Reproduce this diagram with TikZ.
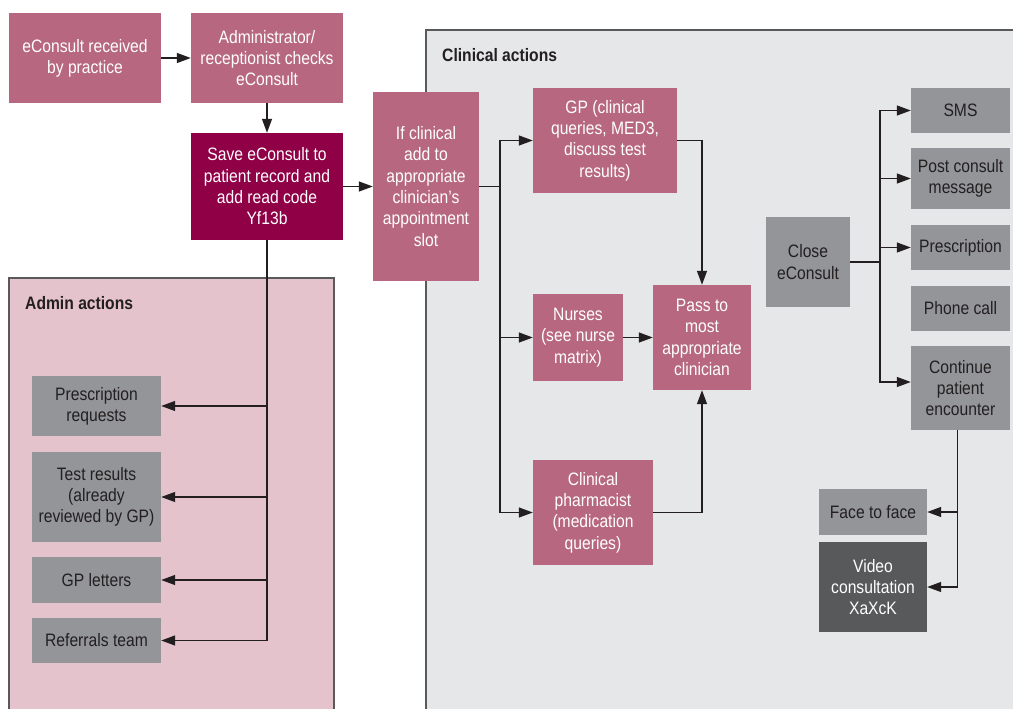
\documentclass[tikz,border=0pt]{standalone}
\usepackage{fontspec}
\setmainfont{Liberation Sans}[FakeStretch=0.87]
\usetikzlibrary{arrows.meta,calc}
\definecolor{ec_mauve}{RGB}{183,104,128}
\definecolor{ec_plum}{RGB}{143,0,70}
\definecolor{ec_grey}{RGB}{147,149,152}
\definecolor{ec_dark}{RGB}{88,89,91}
\definecolor{ec_pink}{RGB}{229,195,204}
\definecolor{ec_panel}{RGB}{230,231,232}
\definecolor{ec_ink}{RGB}{35,31,32}
\tikzstyle{box}=[rectangle,inner sep=0pt,align=center,
  font=\fontsize{18}{21.3}\selectfont]
\tikzstyle{mn}=[box,fill=ec_mauve,text=white]
\tikzstyle{pn}=[box,fill=ec_plum,text=white]
\tikzstyle{gn}=[box,fill=ec_grey,text=ec_ink]
\tikzstyle{kn}=[box,fill=ec_dark,text=white]
\tikzstyle{ttl}=[anchor=west,inner sep=0pt,text=ec_ink,
  font=\fontsize{18}{21.3}\selectfont\bfseries]
\tikzstyle{ln}=[draw=ec_ink,line width=1.3pt]
\tikzstyle{arr}=[ln,-{Triangle[length=14pt,width=10pt]}]

\begin{document}
\begin{tikzpicture}[x=1pt,y=-1pt]
    \useasboundingbox (0,0) rectangle (1013,709);
    % panels
    \begin{scope}
        \clip (0,0) rectangle (1013,709);
        \draw [fill=ec_pink,draw=ec_dark,line width=1.5pt] (9,278) rectangle (334,740);
        \draw [fill=ec_panel,draw=ec_dark,line width=1.5pt] (426,30) rectangle (1040,740);
    \end{scope}
    \node [style=ttl] (ct) at (442,55) {Clinical actions};
    \node [style=ttl] (at) at (25,303) {Admin actions};
    % top row
    \node [style=mn,minimum width=152,minimum height=90] (recv) at (85,58) {eConsult received\\by practice};
    \node [style=mn,minimum width=152,minimum height=90] (chk) at (267,58) {Administrator/\\receptionist checks\\eConsult};
    \node [style=pn,minimum width=152,minimum height=107] (save) at (267,186.5) {Save eConsult to\\patient record and\\add read code\\Yf13b};
    \node [style=mn,minimum width=106,minimum height=189] (ifc) at (426,186.5) {If clinical\\add to\\appropriate\\clinician’s\\appointment\\slot};
    % admin actions
    \node [style=gn,minimum width=129,minimum height=60] (prq) at (96.5,406) {Prescription\\requests};
    \node [style=gn,minimum width=129,minimum height=90] (tst) at (96.5,497) {Test results\\(already\\reviewed by GP)};
    \node [style=gn,minimum width=129,minimum height=46] (let) at (96.5,580) {GP letters};
    \node [style=gn,minimum width=129,minimum height=45] (ref) at (96.5,640.5) {Referrals team};
    % clinical actions
    \node [style=mn,minimum width=144,minimum height=105] (gp) at (605,140.5) {GP (clinical\\queries, MED3,\\discuss test\\results)};
    \node [style=mn,minimum width=90,minimum height=87] (nrs) at (578,337.5) {Nurses\\(see nurse\\matrix)};
    \node [style=mn,minimum width=98,minimum height=105] (pass) at (702,337.5) {Pass to\\most\\appropriate\\clinician};
    \node [style=mn,minimum width=120,minimum height=105] (phm) at (593,512.5) {Clinical\\pharmacist\\(medication\\queries)};
    \node [style=gn,minimum width=84,minimum height=90] (cls) at (808,262) {Close\\eConsult};
    \node [style=gn,minimum width=99,minimum height=45] (sms) at (960.5,110.5) {SMS};
    \node [style=gn,minimum width=99,minimum height=61] (pst) at (960.5,178.5) {Post consult\\message};
    \node [style=gn,minimum width=99,minimum height=45] (rx) at (960.5,247.5) {Prescription};
    \node [style=gn,minimum width=99,minimum height=45] (ph) at (960.5,308.5) {Phone call};
    \node [style=gn,minimum width=99,minimum height=84] (cnt) at (960.5,388) {Continue\\patient\\encounter};
    \node [style=gn,minimum width=108,minimum height=46] (f2f) at (873,512) {Face to face};
    \node [style=kn,minimum width=108,minimum height=90] (vid) at (873,587) {Video\\consultation\\XaXcK};
    % connectors
    \draw [style=arr] (recv) to (chk);
    \draw [style=arr] (chk) to (save);
    \draw [style=arr] (save) to (ifc);
    \draw [style=arr] (save.south) |- (ref.east);
    \draw [style=arr] (save.south |- prq.east) -- (prq.east);
    \draw [style=arr] (save.south |- tst.east) -- (tst.east);
    \draw [style=arr] (save.south |- let.east) -- (let.east);
    \coordinate (cb) at (500,186.5);
    \draw [style=ln] (ifc.east) -- (cb);
    \draw [style=arr] (cb) |- (gp.west);
    \draw [style=arr] (cb) |- (phm.west);
    \draw [style=arr] (cb |- nrs.west) -- (nrs.west);
    \draw [style=arr] (gp.east) -| (pass.north);
    \draw [style=arr] (nrs) to (pass);
    \draw [style=arr] (phm.east) -| (pass.south);
    \coordinate (rb) at (880,262);
    \draw [style=ln] (cls.east) -- (rb);
    \draw [style=arr] (rb) |- (sms.west);
    \draw [style=arr] (rb) |- ([yshift=6pt]cnt.west);
    \draw [style=arr] (rb |- pst.west) -- (pst.west);
    \draw [style=arr] (rb |- rx.west) -- (rx.west);
    \draw [style=arr] ([xshift=-3pt]cnt.south) |- (vid.east);
    \draw [style=arr] ([xshift=-3pt]cnt.south |- f2f.east) -- (f2f.east);
\end{tikzpicture}
\end{document}
